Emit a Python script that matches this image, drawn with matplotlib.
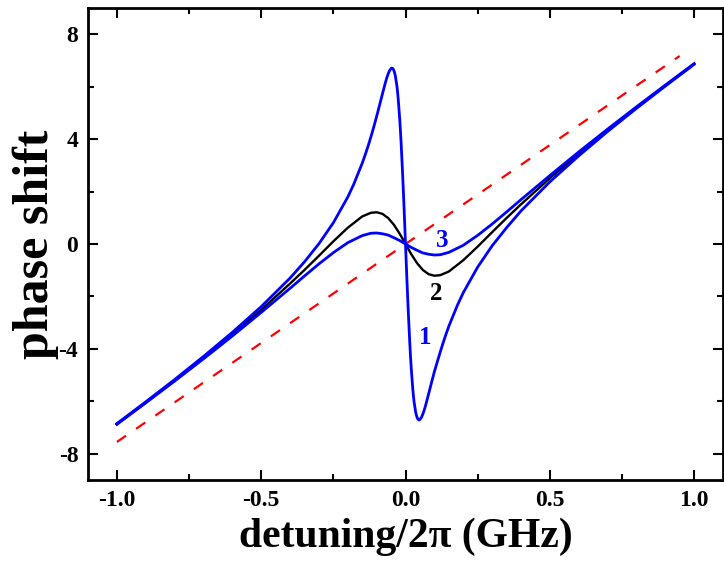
import numpy as np
import matplotlib.pyplot as plt
from matplotlib.ticker import MultipleLocator

# -- data --
x_c1 = [-1.0, -0.9, -0.8, -0.7, -0.6, -0.5, -0.4, -0.35, -0.3, -0.25, -0.2, -0.18,
        -0.15, -0.14, -0.13, -0.12, -0.11, -0.1, -0.09, -0.08, -0.07, -0.065, -0.06,
        -0.055, -0.05, -0.0475, -0.045, -0.0425, -0.04, -0.0375, -0.035, -0.03, -0.0275,
        -0.025, -0.02, -0.0175, -0.015, -0.01, -0.0075, -0.005, 0.0,
        0.005, 0.0075, 0.01, 0.015, 0.0175, 0.02, 0.025, 0.0275, 0.03, 0.035, 0.0375,
        0.04, 0.0425, 0.045, 0.0475, 0.05, 0.055, 0.06, 0.065, 0.07, 0.08, 0.09,
        0.1, 0.11, 0.12, 0.13, 0.14, 0.15, 0.18, 0.2, 0.25, 0.3, 0.35, 0.4,
        0.5, 0.6, 0.7, 0.8, 0.9, 1.0]
y_c1 = [-6.85, -6.02, -5.17, -4.29, -3.37, -2.39, -1.30, -0.68, 0.01, 0.81, 1.79, 2.26,
        3.08, 3.39, 3.72, 4.08, 4.46, 4.87, 5.29, 5.72, 6.14, 6.33, 6.49,
        6.62, 6.69, 6.71, 6.70, 6.67, 6.61, 6.52, 6.40, 6.04, 5.80,
        5.50, 4.76, 4.31, 3.81, 2.67, 2.04, 1.38, 0.0,
        -1.38, -2.04, -2.67, -3.81, -4.31, -4.76, -5.50, -5.80, -6.04, -6.40, -6.52,
        -6.61, -6.67, -6.70, -6.71, -6.69, -6.62, -6.49, -6.33, -6.14, -5.72, -5.29,
        -4.87, -4.50, -4.13, -3.78, -3.45, -3.14, -2.33, -1.86, -0.88, -0.07, 0.62, 1.26,
        2.37, 3.36, 4.29, 5.17, 6.02, 6.85]

x_c23 = [-1.0, -0.9, -0.8, -0.7, -0.6, -0.5, -0.4, -0.35, -0.3, -0.25, -0.2, -0.15,
         -0.12, -0.1, -0.08, -0.06, -0.04, -0.02, 0.0, 0.02, 0.04, 0.06, 0.08, 0.1,
         0.12, 0.15, 0.2, 0.25, 0.3, 0.35, 0.4, 0.5, 0.6, 0.7, 0.8, 0.9, 1.0]
y_c2 = [-6.87, -6.04, -5.20, -4.34, -3.44, -2.51, -1.51, -0.99, -0.45, 0.10, 0.62, 1.05,
        1.19, 1.21, 1.15, 0.99, 0.73, 0.39, 0.0, -0.39, -0.73, -0.99, -1.15, -1.21,
        -1.19, -1.05, -0.62, -0.10, 0.45, 0.99, 1.51, 2.51, 3.44, 4.34, 5.20, 6.04, 6.87]
y_c3 = [-6.88, -6.06, -5.23, -4.38, -3.51, -2.61, -1.69, -1.22, -0.76, -0.33, 0.05, 0.32,
        0.41, 0.42, 0.39, 0.34, 0.24, 0.13, 0.0, -0.13, -0.24, -0.34, -0.39, -0.42,
        -0.41, -0.32, -0.05, 0.33, 0.76, 1.22, 1.69, 2.61, 3.51, 4.38, 5.23, 6.06, 6.88]

x_lin = [-1.0, 0.95]
y_lin = [-7.55, 7.17]

labels = ["1", "2", "3"]
label_x = [0.068, 0.106, 0.126]
label_y = [-3.56, -1.88, 0.15]
label_col = ["#0000ff", "black", "#0000ff"]

xtick_vals = [-1.0, -0.5, 0.0, 0.5, 1.0]
xtick_text = ["-1.0", "-0.5", "0.0", "0.5", "1.0"]
ytick_vals = [-8, -4, 0, 4, 8]
ytick_text = ["-8", "-4", "0", "4", "8"]

plt.rcParams['font.family'] = ['Liberation Serif', 'DejaVu Serif']
plt.rcParams['font.weight'] = 'bold'

fig = plt.figure(figsize=(7.24, 5.72), dpi=100)
ax = fig.add_axes([88/724, 1-480/572, 635/724, 472/572])

ax.plot(x_lin, y_lin, color="red", lw=1.6, dashes=(5.0, 5.5))
ax.plot(x_c23, y_c2, color="black", lw=1.7)
ax.plot(x_c23, y_c3, color="#0000ff", lw=2.0)
ax.plot(x_c1, y_c1, color="#0000ff", lw=2.0)

for t, tx, ty, c in zip(labels, label_x, label_y, label_col):
    ax.text(tx, ty, t, color=c, fontsize=18, fontweight='bold', ha='center', va='center')

ax.set_xlim(-1.1, 1.1)
ax.set_ylim(-9, 9)
ax.xaxis.set_minor_locator(MultipleLocator(0.25))
ax.yaxis.set_minor_locator(MultipleLocator(2))
ax.set_xticks(xtick_vals)
ax.set_xticklabels(xtick_text)
ax.set_yticks(ytick_vals)
ax.set_yticklabels(ytick_text)
ax.tick_params(which='both', direction='in', top=True, right=True, width=1.5, labelsize=17, pad=7)
ax.tick_params(which='major', length=7)
ax.tick_params(which='minor', length=4)
for s in ax.spines.values():
    s.set_linewidth(2)

ax.set_xlabel("detuning/2\u03c0 (GHz)", fontsize=30, fontweight='bold', labelpad=5)
ax.set_ylabel("phase shift", fontsize=36, fontweight='bold', labelpad=0)

fig.savefig("out.png", dpi=100)
